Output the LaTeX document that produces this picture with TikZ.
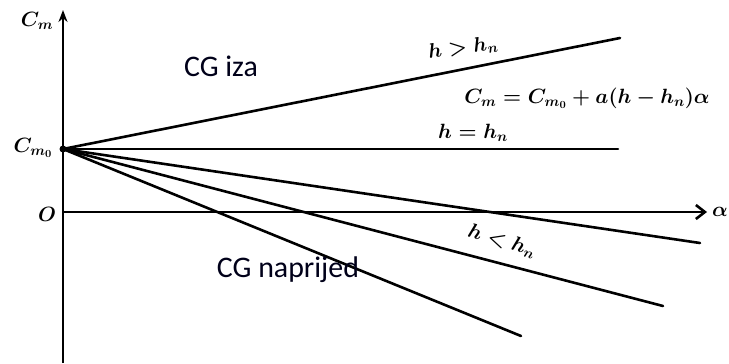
\documentclass[tikz,border=0pt]{standalone}
\usepackage{fontspec}
\newfontfamily\cgfont{Carlito}
\usetikzlibrary{arrows.meta}
\tikzset{
  curve/.style={line width=2.6bp, line cap=round},
  axis/.style={line width=2.6bp},
  mlabel/.style={inner sep=0pt, font=\fontsize{21}{24}\selectfont\boldmath},
  cglabel/.style={inner sep=0pt, text=black!90!blue, font=\cgfont\fontsize{30}{34}\selectfont}
}
\begin{document}
\begin{tikzpicture}[x=1bp,y=-1bp]
\useasboundingbox (0,0) rectangle (729,363);
% axes
\coordinate (ybot) at (63,363);
\coordinate (ytop) at (63,10);
\coordinate (xl) at (63,212);
\coordinate (xr) at (707,212);
\draw[axis,-{Stealth[length=12bp,width=9bp]}] (ybot) -- (ytop);
\draw[axis,-{Straight Barb[length=9bp,width=14bp]}] (xl) -- (xr);
% origin point
\coordinate (o) at (63,149);
\coordinate (e1) at (620,38);
\coordinate (e2) at (618,149);
\coordinate (e3) at (700,243);
\coordinate (e4) at (663,306);
\coordinate (e5) at (521,336);
\draw[curve] (o) -- (e1);
\draw[curve] (o) -- (e2);
\draw[curve] (o) -- (e3);
\draw[curve] (o) -- (e4);
\draw[curve] (o) -- (e5);
\fill (o) circle (3.5bp);
% labels
\node[mlabel] (cm) at (37,21) {$C_m$};
\node[mlabel] (cm0) at (33,148) {$C_{m_0}$};
\node[mlabel] (zero) at (47,214) {$O$};
\node[mlabel] (alpha) at (720,212) {$\alpha$};
\node[mlabel, rotate=8] (lgt) at (463,48) {$h>h_n$};
\node[mlabel] (eq) at (587,98) {$C_m=C_{m_0}+a(h-h_n)\alpha$};
\node[mlabel] (leq) at (473,133) {$h=h_n$};
\node[mlabel, rotate=-17] (llt) at (502,241) {$h<h_n$};
\node[cglabel] (iza) at (221,66) {CG iza};
\node[cglabel] (napr) at (288,270) {CG naprijed};
\end{tikzpicture}
\end{document}
